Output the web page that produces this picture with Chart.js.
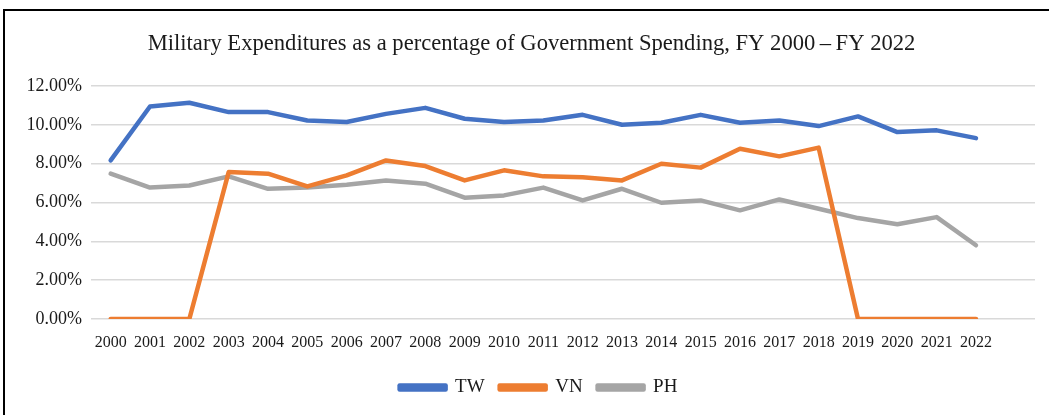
<!DOCTYPE html>
<html>
<head>
<meta charset="utf-8">
<script src="https://cdn.jsdelivr.net/npm/chart.js@4.4.1/dist/chart.umd.min.js"></script>
<style>
html,body{margin:0;padding:0;background:#fff;}
#wrap{position:absolute;left:0;top:0;width:1049px;height:415px;}
</style>
</head>
<body>
<div id="wrap"><canvas id="c" width="1049" height="415"></canvas></div>
<script>
const years = ['2000','2001','2002','2003','2004','2005','2006','2007','2008','2009','2010','2011','2012','2013','2014','2015','2016','2017','2018','2019','2020','2021','2022',''];
const tw = [8.17,10.95,11.14,10.66,10.66,10.23,10.15,10.57,10.88,10.32,10.15,10.23,10.52,10.01,10.11,10.52,10.11,10.23,9.94,10.44,9.63,9.72,9.32,null];
const vn = [0,0,0,7.57,7.49,6.83,7.40,8.17,7.88,7.14,7.66,7.35,7.31,7.14,8.00,7.80,8.77,8.38,8.83,0,0,0,0,null];
const ph = [7.49,6.77,6.88,7.35,6.71,6.77,6.92,7.14,6.97,6.25,6.37,6.77,6.11,6.71,5.99,6.11,5.60,6.16,5.68,5.20,4.88,5.25,3.80,null];
const seriesNames = ['TW','VN','PH'];
const seriesColors = ['#4472C4','#ED7D31','#A5A5A5'];
const titleText = 'Military Expenditures as a percentage of Government Spending, FY 2000\u2009\u2013\u2009FY 2022';

const frame = {
  id:'frame',
  beforeDraw(chart){
    const ctx = chart.ctx;
    ctx.save();
    ctx.fillStyle = '#fff';
    ctx.fillRect(0,0,chart.width,chart.height);
    ctx.strokeStyle = '#000';
    ctx.lineWidth = 2;
    ctx.beginPath();
    ctx.moveTo(4, chart.height);
    ctx.lineTo(4, 10);
    ctx.lineTo(chart.width, 10);
    ctx.stroke();
    ctx.restore();
  }
};
const boxShift = {
  id:'boxShift',
  afterLayout(chart){
    if (chart.legend){ chart.legend.left += 21; chart.legend.right += 21; }
    if (chart.titleBlock){ chart.titleBlock.left += 14; chart.titleBlock.right += 14; }
  }
};

const mk = (i, data) => ({
  label: seriesNames[i], data,
  borderColor: seriesColors[i], backgroundColor: seriesColors[i],
  borderWidth: 4.5, pointRadius: 0, tension: 0,
  borderCapStyle:'round', borderJoinStyle:'round'
});

new Chart(document.getElementById('c'), {
  type:'line',
  data:{ labels: years, datasets:[mk(0,tw), mk(1,vn), mk(2,ph)] },
  options:{
    responsive:false, animation:false, devicePixelRatio:1,
    layout:{padding:{left:0,right:14,top:0,bottom:8}},
    plugins:{
      title:{display:true,text:titleText,color:'#1a1a1a',
        font:{family:'Liberation Serif',size:22.6,weight:'normal'},
        padding:{top:31,bottom:28}},
      legend:{position:'bottom',
        labels:{boxWidth:46,boxHeight:4,padding:15,color:'#1a1a1a',
          font:{family:'Liberation Serif',size:19}}},
      tooltip:{enabled:false}
    },
    scales:{
      x:{
        offset:true,
        grid:{display:false,drawTicks:false},
        border:{display:false},
        ticks:{autoSkip:false,maxRotation:0,minRotation:0,padding:14,color:'#1a1a1a',
          font:{family:'Liberation Serif',size:16}},
        afterFit(s){ s.height = 44; }
      },
      y:{
        min:0,max:12,
        grid:{color:'#d9d9d9',lineWidth:1.5,drawTicks:false},
        border:{display:false},
        ticks:{stepSize:2,padding:9,color:'#1a1a1a',
          font:{family:'Liberation Serif',size:18},
          callback:v=>v.toFixed(2)+'%'},
        afterFit(s){ s.width = 91; }
      }
    }
  },
  plugins:[frame, boxShift]
});
</script>
</body>
</html>
